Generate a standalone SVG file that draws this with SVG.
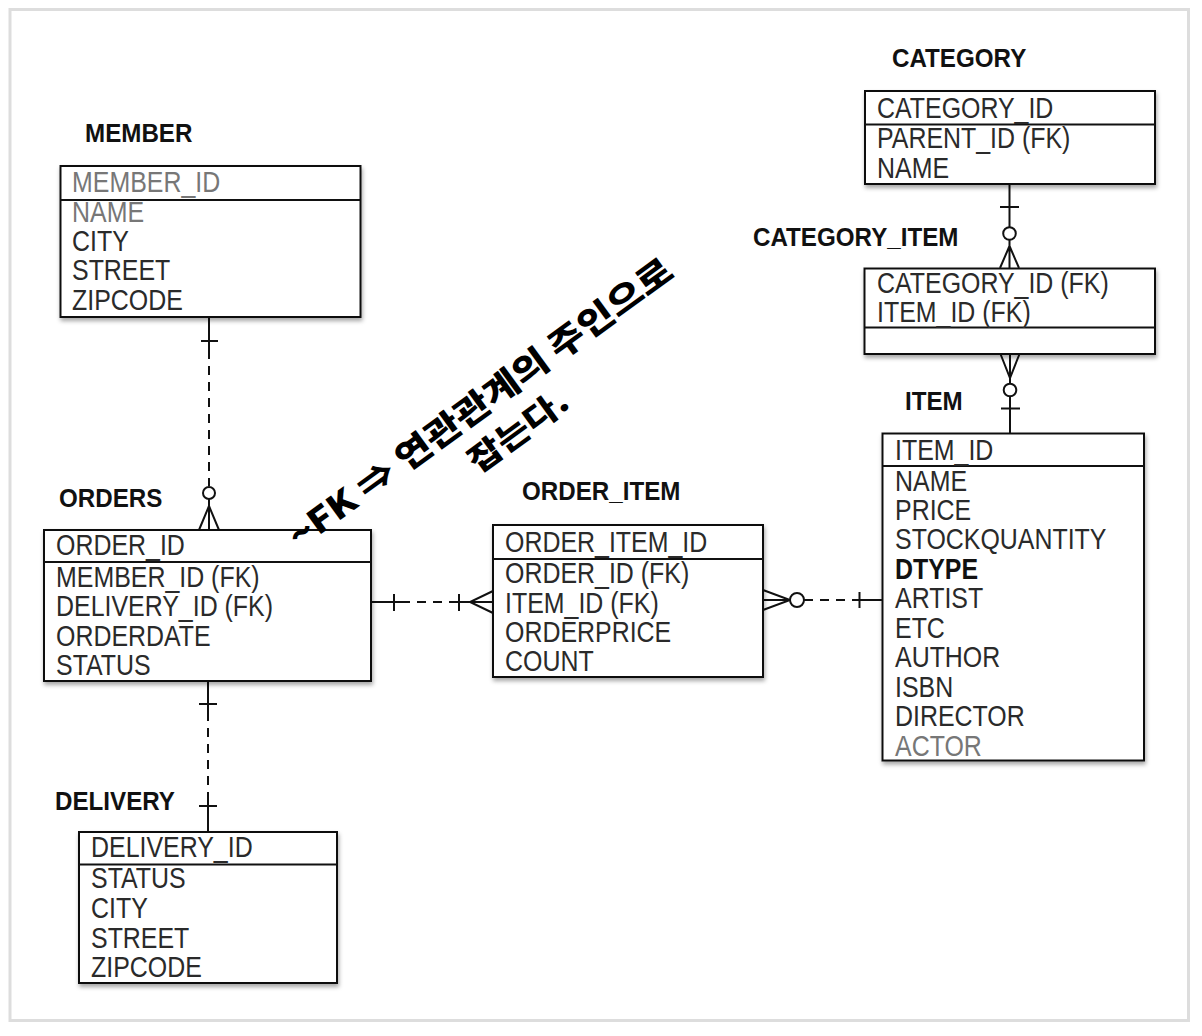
<svg xmlns="http://www.w3.org/2000/svg" width="1202" height="1036" viewBox="0 0 1202 1036">
<defs>
<filter id="sh" x="-10%" y="-10%" width="130%" height="130%">
<feDropShadow dx="1" dy="3" stdDeviation="2" flood-color="#000" flood-opacity="0.35"/>
</filter>
</defs>
<style>
.box{fill:#fff;stroke:#111;stroke-width:2;filter:url(#sh)}
.div{stroke:#111;stroke-width:2}
.lbl{font-family:"Liberation Sans",Arial,sans-serif;font-weight:bold;font-size:26px;fill:#111}
.row{font-family:"Liberation Sans",Arial,sans-serif;font-size:29px;fill:#2a2a2a}
.fade{fill:#777}
.b{font-weight:bold;fill:#111}
.c{stroke:#111;stroke-width:2;fill:none}
.d{stroke-dasharray:9 7}
.o{fill:#fff;stroke:#111;stroke-width:2}
.hw{font-family:"Noto Sans CJK KR","DejaVu Sans",sans-serif;font-weight:900;fill:#000}
</style>
<rect x="0" y="0" width="1202" height="1036" fill="#fff"/>
<rect x="10" y="9.5" width="1178.5" height="1011" fill="#fff" stroke="#ddd" stroke-width="3"/>

<g id="connectors">
<!-- MEMBER - ORDERS -->
<line class="c" x1="209" y1="317" x2="209" y2="350"/>
<line class="c" x1="201" y1="341" x2="218" y2="341"/>
<line class="c d" x1="209" y1="350" x2="209" y2="486"/>
<circle class="o" cx="209" cy="493" r="6"/>
<path class="c" d="M209,499 V530 M209,506 L199,530 M209,506 L219,530"/>
<!-- ORDERS - DELIVERY -->
<line class="c" x1="208" y1="681" x2="208" y2="712"/>
<line class="c" x1="199" y1="704" x2="217" y2="704"/>
<line class="c d" x1="208" y1="712" x2="208" y2="798"/>
<line class="c" x1="208" y1="798" x2="208" y2="832"/>
<line class="c" x1="199" y1="806" x2="217" y2="806"/>
<!-- ORDERS - ORDER_ITEM -->
<line class="c" x1="371" y1="602" x2="401" y2="602"/>
<line class="c" x1="394" y1="594" x2="394" y2="611"/>
<line class="c d" x1="401" y1="602" x2="454" y2="602"/>
<line class="c" x1="454" y1="602" x2="493" y2="602"/>
<line class="c" x1="459" y1="594" x2="459" y2="611"/>
<path class="c" d="M493,591 L470,602 L493,613"/>
<!-- ORDER_ITEM - ITEM -->
<path class="c" d="M763,590 L790,600 L763,610 M763,600 H790"/>
<circle class="o" cx="797" cy="600" r="7"/>
<line class="c d" x1="804" y1="600" x2="854" y2="600"/>
<line class="c" x1="854" y1="600" x2="882" y2="600"/>
<line class="c" x1="859.5" y1="592" x2="859.5" y2="608"/>
<!-- CATEGORY - CATEGORY_ITEM -->
<line class="c" x1="1009.5" y1="184" x2="1009.5" y2="227"/>
<line class="c" x1="1000" y1="207" x2="1019" y2="207"/>
<circle class="o" cx="1009.5" cy="233.5" r="6.3"/>
<path class="c" d="M1009.5,240 V268 M1009.5,246 L1000,268 M1009.5,246 L1019,268"/>
<!-- CATEGORY_ITEM - ITEM -->
<path class="c" d="M1010,354 V384 M1000.5,354 L1010,378 L1019.5,354"/>
<circle class="o" cx="1010" cy="390" r="6.3"/>
<line class="c" x1="1010" y1="396.5" x2="1010" y2="433"/>
<line class="c" x1="1001" y1="408.5" x2="1020" y2="408.5"/>
</g>

<g id="member">
<text class="lbl" transform="translate(85,142) scale(.93,1)">MEMBER</text>
<rect class="box" x="60.5" y="166" width="300" height="151"/>
<line class="div" x1="60.5" y1="200" x2="360.5" y2="200"/>
<g class="row" transform="translate(72,0) scale(.86,1)">
<text class="fade" x="0" y="192">MEMBER_ID</text>
<text class="fade" x="0" y="222">NAME</text>
<text x="0" y="251">CITY</text>
<text x="0" y="280">STREET</text>
<text x="0" y="310">ZIPCODE</text>
</g>
</g>

<g id="orders">
<text class="lbl" transform="translate(59,507) scale(.93,1)">ORDERS</text>
<rect class="box" x="44" y="530" width="327" height="151"/>
<line class="div" x1="44" y1="562" x2="371" y2="562"/>
<g class="row" transform="translate(56,0) scale(.86,1)">
<text x="0" y="555">ORDER_ID</text>
<text x="0" y="587">MEMBER_ID (FK)</text>
<text x="0" y="616">DELIVERY_ID (FK)</text>
<text x="0" y="646">ORDERDATE</text>
<text x="0" y="675">STATUS</text>
</g>
</g>

<g id="delivery">
<text class="lbl" transform="translate(55,810) scale(.93,1)">DELIVERY</text>
<rect class="box" x="79" y="832" width="258" height="151"/>
<line class="div" x1="79" y1="864.5" x2="337" y2="864.5"/>
<g class="row" transform="translate(91,0) scale(.86,1)">
<text x="0" y="857">DELIVERY_ID</text>
<text x="0" y="888">STATUS</text>
<text x="0" y="918">CITY</text>
<text x="0" y="948">STREET</text>
<text x="0" y="977">ZIPCODE</text>
</g>
</g>

<g id="order_item">
<text class="lbl" transform="translate(522,500) scale(.93,1)">ORDER_ITEM</text>
<rect class="box" x="493" y="525" width="270" height="152"/>
<line class="div" x1="493" y1="559" x2="763" y2="559"/>
<g class="row" transform="translate(505,0) scale(.86,1)">
<text x="0" y="552">ORDER_ITEM_ID</text>
<text x="0" y="583">ORDER_ID (FK)</text>
<text x="0" y="613">ITEM_ID (FK)</text>
<text x="0" y="642">ORDERPRICE</text>
<text x="0" y="671">COUNT</text>
</g>
</g>

<g id="category">
<text class="lbl" transform="translate(892,67) scale(.93,1)">CATEGORY</text>
<rect class="box" x="865" y="91" width="290" height="93"/>
<line class="div" x1="865" y1="124.5" x2="1155" y2="124.5"/>
<g class="row" transform="translate(877,0) scale(.86,1)">
<text x="0" y="118">CATEGORY_ID</text>
<text x="0" y="148">PARENT_ID (FK)</text>
<text x="0" y="178">NAME</text>
</g>
</g>

<g id="category_item">
<text class="lbl" transform="translate(753,246) scale(.93,1)">CATEGORY_ITEM</text>
<rect class="box" x="864.5" y="268.5" width="290.5" height="85.5"/>
<line class="div" x1="864.5" y1="327.5" x2="1155" y2="327.5"/>
<g class="row" transform="translate(877,0) scale(.86,1)">
<text x="0" y="293">CATEGORY_ID (FK)</text>
<text x="0" y="322">ITEM_ID (FK)</text>
</g>
</g>

<g id="item">
<text class="lbl" transform="translate(905,410) scale(.93,1)">ITEM</text>
<rect class="box" x="882.5" y="433.5" width="261.5" height="327"/>
<line class="div" x1="882.5" y1="466" x2="1144" y2="466"/>
<g class="row" transform="translate(895,0) scale(.86,1)">
<text x="0" y="460">ITEM_ID</text>
<text x="0" y="491">NAME</text>
<text x="0" y="520">PRICE</text>
<text x="0" y="549.5">STOCKQUANTITY</text>
<text class="b" x="0" y="579">DTYPE</text>
<text x="0" y="608.5">ARTIST</text>
<text x="0" y="638">ETC</text>
<text x="0" y="667.5">AUTHOR</text>
<text x="0" y="697">ISBN</text>
<text x="0" y="726.5">DIRECTOR</text>
<text class="fade" x="0" y="756">ACTOR</text>
</g>
</g>

<g id="annotation" transform="translate(299,550) rotate(-36)">
<text class="hw" x="0" y="0" font-size="34" textLength="466" lengthAdjust="spacingAndGlyphs">~FK ⇒ 연관관계의 주인으로</text>
<text class="hw" x="190" y="44" font-size="32" textLength="115" lengthAdjust="spacingAndGlyphs">잡는다.</text>
</g>
</svg>
